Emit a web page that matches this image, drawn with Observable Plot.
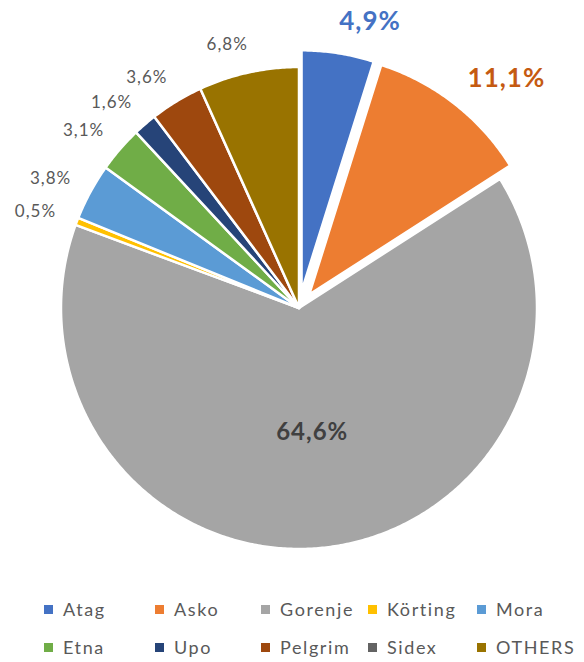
<!DOCTYPE html>
<html>
<head>
<meta charset="utf-8">
<script src="https://cdn.jsdelivr.net/npm/d3@7"></script>
<script src="https://cdn.jsdelivr.net/npm/@observablehq/plot@0.6"></script>
<style>
  body { margin: 0; background: #fff; font-family: Lato, "Noto Sans", sans-serif; }
  #chart { width: 584px; height: 662px; position: relative; overflow: hidden; }
  .legend { display: grid; grid-template-columns: 111px 106px 107px 109px 120px; padding-left: 44px; margin-top: 15px; }
  .item { display: flex; align-items: center; height: 38px; font-size: 18px; color: #595959; letter-spacing: 1.6px; white-space: nowrap; }
  .sw { width: 9px; height: 9px; margin-right: 10px; flex: none; }
</style>
</head>
<body>
<div id="chart"></div>
<script>
// ---- data ----
const brands = ["Atag", "Asko", "Gorenje", "Körting", "Mora", "Etna", "Upo", "Pelgrim", "Sidex", "OTHERS"];
const shares = [4.9, 11.1, 64.6, 0.5, 3.8, 3.1, 1.6, 3.6, 0, 6.8];
const colors = ["#4472C4", "#ED7D31", "#A5A5A5", "#FFC000", "#5B9BD5", "#70AD47", "#264478", "#9E480E", "#636363", "#997300"];
const explodedBrands = ["Atag", "Asko"];

// ---- layout ----
const W = 584, H = 575;
const cx = 298.5, cy = 307.5;   // pie centre in px
const rx = 238, ry = 241;       // px per unit radius
const EXPLODE = 0.07;
const LABEL_R = 1.117;
const INSIDE_R = 0.52;
const LS = 1;                   // letter spacing px

const emphasized = { Atag: "#4472C4", Asko: "#C55A11", Gorenje: "#404040" };

const rows = brands.map((name, i) => ({ name, share: shares[i] }));
const arcs = d3.pie().sort(null).value(d => d.share)(rows);

const canvas = document.createElement("canvas");
const ctx = canvas.getContext("2d");
function textWidth(s, size, weight) {
  ctx.font = `${weight} ${size}px Lato`;
  return ctx.measureText(s).width + LS * s.length;
}
const fmt = v => v.toFixed(1).replace(".", ",") + "%";

const slicePts = [];
const labels = [];
for (const a of arcs) {
  if (a.data.share <= 0) continue;
  const name = a.data.name;
  const m = (a.startAngle + a.endAngle) / 2;
  const e = explodedBrands.includes(name) ? EXPLODE : 0;
  const ox = e * Math.sin(m), oy = e * Math.cos(m);
  slicePts.push({ name, x: ox, y: oy });
  const n = Math.max(2, Math.ceil((a.endAngle - a.startAngle) / (Math.PI / 360)));
  for (let k = 0; k <= n; k++) {
    const t = a.startAngle + (a.endAngle - a.startAngle) * k / n;
    slicePts.push({ name, x: ox + Math.sin(t), y: oy + Math.cos(t) });
  }
  const big = name in emphasized;
  const text = fmt(a.data.share);
  if (a.data.share > 50) {
    labels.push({ name, text, big, inside: true, size: 24, color: emphasized[name],
      x: ox + INSIDE_R * Math.sin(m), y: oy + INSIDE_R * Math.cos(m) });
  } else {
    const size = big ? 26 : 17;
    const hw = textWidth(text, size, big ? "bold" : "normal") / 2;
    const hh = size * 0.4;
    const s = Math.sin(m), c = Math.cos(m);
    const push = big ? 0.9 : 0.75;
    labels.push({ name, text, big, inside: false, size, color: big ? emphasized[name] : "#595959",
      x: ox + LABEL_R * s + Math.sign(s) * push * hw / rx,
      y: oy + (LABEL_R + (hh - 6.8) / ry) * c });
  }
}

const marks = [
  Plot.line(slicePts, {
    x: "x", y: "y", z: "name", fill: "name",
    stroke: "white", strokeWidth: 2.5, strokeLinejoin: "round", curve: "linear-closed"
  }),
  Plot.text(labels.filter(d => !d.big), { x: "x", y: "y", text: "text", fontSize: 17, fill: "#595959" })
];
for (const d of labels.filter(d => d.big)) {
  marks.push(Plot.text([d], { x: "x", y: "y", text: "text", fontSize: d.size, fontWeight: "bold", fill: d.color }));
}

const plot = Plot.plot({
  width: W, height: H, margin: 0,
  x: { domain: [-cx / rx, (W - cx) / rx], axis: null },
  y: { domain: [-(H - cy) / ry, cy / ry], axis: null },
  color: { domain: brands, range: colors },
  style: { fontFamily: "Lato", background: "white", letterSpacing: LS + "px", overflow: "visible" },
  marks
});

const chart = document.getElementById("chart");
chart.appendChild(plot);

const legend = document.createElement("div");
legend.className = "legend";
brands.forEach((b, i) => {
  const item = document.createElement("div");
  item.className = "item";
  const sw = document.createElement("span");
  sw.className = "sw";
  sw.style.background = colors[i];
  const lab = document.createElement("span");
  lab.textContent = b;
  item.appendChild(sw);
  item.appendChild(lab);
  legend.appendChild(item);
});
chart.appendChild(legend);
</script>
</body>
</html>
